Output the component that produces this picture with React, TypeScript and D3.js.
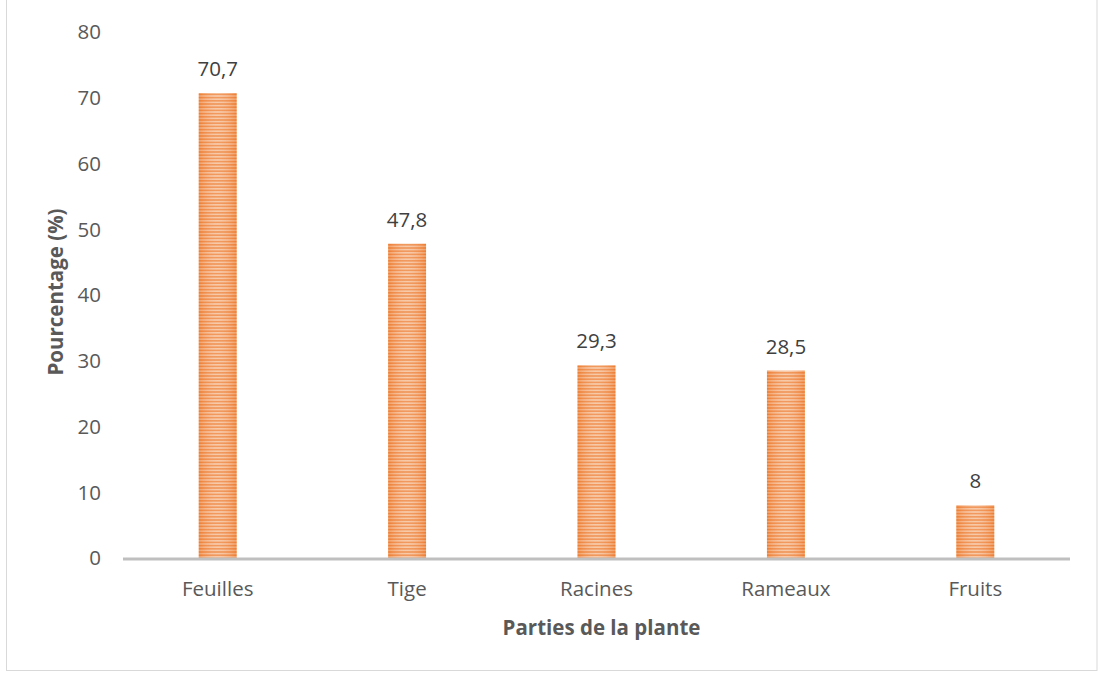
import React from "react";
import * as d3 from "d3";

const categories = ["Feuilles", "Tige", "Racines", "Rameaux", "Fruits"];
const values = [70.7, 47.8, 29.3, 28.5, 8];
const valueLabels = ["70,7", "47,8", "29,3", "28,5", "8"];
const yTicks = [0, 10, 20, 30, 40, 50, 60, 70, 80];

const W = 1100;
const H = 673;
const left = 123;
const right = 1070;
const top = 32;
const bottom = 558;
const FONT = "'Open Sans', 'Noto Sans', sans-serif";
const FS = 20.5;
const TEXT = "#595959";

export default function App() {
  const x = d3.scaleBand<string>().domain(categories).range([left, right]).paddingInner(0.8).paddingOuter(0.4);
  const y = d3.scaleLinear().domain([0, 80]).range([bottom, top]);

  return (
    <svg width={W} height={H} style={{ position: "absolute", left: 0, top: 0 }}>
      <defs>
        <pattern id="stripes" patternUnits="userSpaceOnUse" width="8" height="3.2">
          <rect width="8" height="3.2" fill="#f8c6a2" />
          <rect width="8" height="1.8" y="0.7" fill="#ed7f35" />
        </pattern>
        <linearGradient id="sheen" x1="0" x2="1" y1="0" y2="0">
          <stop offset="0" stopColor="#ed7d31" stopOpacity="0.45" />
          <stop offset="0.5" stopColor="#ffffff" stopOpacity="0.2" />
          <stop offset="1" stopColor="#ed7d31" stopOpacity="0.45" />
        </linearGradient>
      </defs>
      <rect x={0} y={0} width={W} height={H} fill="#ffffff" />
      <rect x={6.5} y={-1} width={1090.5} height={671.5} fill="none" stroke="#d9d9d9" strokeWidth={1} />

      {yTicks.map((t) => (
        <text key={t} x={101} y={y(t)} dy="0.36em" textAnchor="end" fontFamily={FONT} fontSize={FS} fill={TEXT}>
          {t}
        </text>
      ))}

      {categories.map((c, i) => {
        const bx = x(c)!;
        const bw = x.bandwidth();
        const by = y(values[i]);
        const bh = bottom - by;
        return (
          <g key={c}>
            <rect x={bx} y={by} width={bw} height={bh} fill="url(#stripes)" />
            <rect x={bx} y={by} width={bw} height={bh} fill="url(#sheen)" />
            <text x={bx + bw / 2} y={by - 17} textAnchor="middle" fontFamily={FONT} fontSize={FS} fill="#404040">
              {valueLabels[i]}
            </text>
            <text x={bx + bw / 2} y={596} textAnchor="middle" fontFamily={FONT} fontSize={FS} fill={TEXT}>
              {c}
            </text>
          </g>
        );
      })}

      <line x1={left} x2={right} y1={bottom + 1} y2={bottom + 1} stroke="#bfbfbf" strokeWidth={3} />

      <text
        transform={`translate(63,292) rotate(-90)`}
        textAnchor="middle"
        fontFamily={FONT}
        fontSize={FS}
        fontWeight="bold"
        fill={TEXT}
      >
        Pourcentage (%)
      </text>
      <text x={(left + right) / 2 + 5} y={635} textAnchor="middle" fontFamily={FONT} fontSize={FS} fontWeight="bold" fill={TEXT}>
        Parties de la plante
      </text>
    </svg>
  );
}
